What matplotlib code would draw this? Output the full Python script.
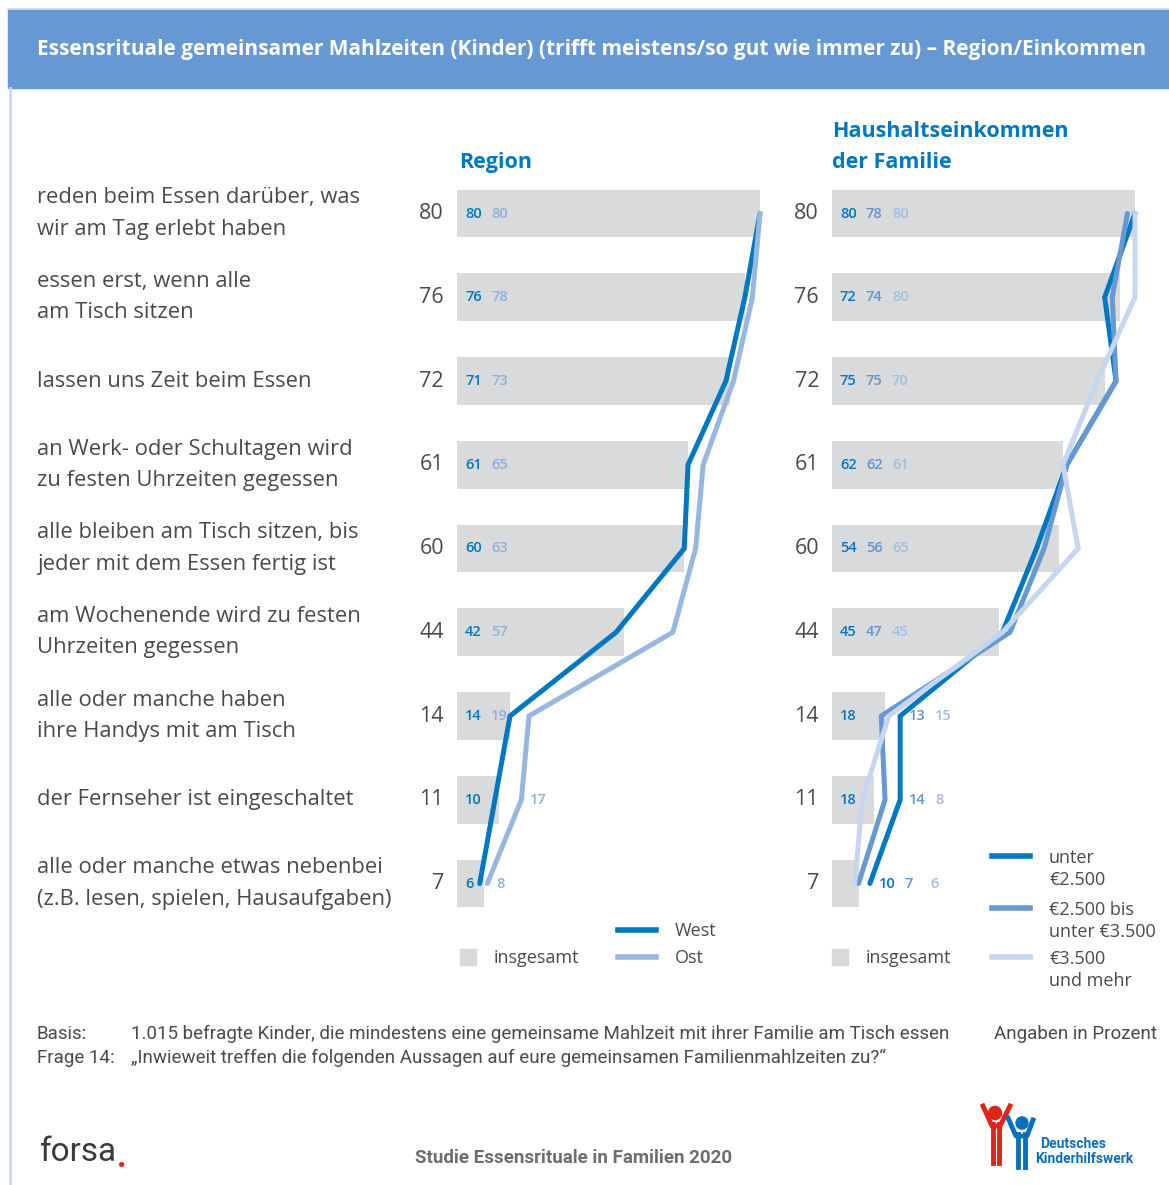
import matplotlib
matplotlib.use("Agg")
import matplotlib.pyplot as plt
import matplotlib.transforms as mtransforms
from matplotlib.patches import Rectangle, Circle
from matplotlib.lines import Line2D

# canvas in pixels
W, H = 1169, 1185
DPI = 100

statements = [
    "reden beim Essen darüber, was\nwir am Tag erlebt haben",
    "essen erst, wenn alle\nam Tisch sitzen",
    "lassen uns Zeit beim Essen",
    "an Werk- oder Schultagen wird\nzu festen Uhrzeiten gegessen",
    "alle bleiben am Tisch sitzen, bis\njeder mit dem Essen fertig ist",
    "am Wochenende wird zu festen\nUhrzeiten gegessen",
    "alle oder manche haben\nihre Handys mit am Tisch",
    "der Fernseher ist eingeschaltet",
    "alle oder manche etwas nebenbei\n(z.B. lesen, spielen, Hausaufgaben)",
]
insgesamt = [80, 76, 72, 61, 60, 44, 14, 11, 7]

west = [80, 76, 71, 61, 60, 42, 14, 10, 6]
ost = [80, 78, 73, 65, 63, 57, 19, 17, 8]

ek_unter_2500 = [80, 72, 75, 62, 54, 45, 18, 18, 10]
ek_2500_3500 = [78, 74, 75, 62, 56, 47, 13, 14, 7]
ek_ab_3500 = [80, 80, 70, 61, 65, 45, 15, 8, 6]

# how many value labels of a row sit inside the grey bar (rest go right of the lines)
region_inside = [2, 2, 2, 2, 2, 2, 2, 1, 1]
income_inside = [3, 3, 3, 3, 3, 3, 1, 1, 0]

# (legend name, values, line colour, label colour)
region_series = [("West", west, "#0078c1", "#0078c1"),
                 ("Ost", ost, "#98b7e0", "#8fb0dc")]
income_series = [
    ("unter\n€2.500", ek_unter_2500, "#0078c1", "#0078c1"),
    ("€2.500 bis\nunter €3.500", ek_2500_3500, "#6699d3", "#5f95d0"),
    ("€3.500\nund mehr", ek_ab_3500, "#c6d6ee", "#a4bde3"),
]

BAR_GREY = "#d9dadc"
TEXT_GREY = "#4a4a4a"
HEAD_BLUE = "#0078c1"
FONT = ["Open Sans", "DejaVu Sans"]
COND = ["Roboto", "DejaVu Sans"]

plt.rcParams["font.family"] = FONT

fig = plt.figure(figsize=(W / DPI, H / DPI), dpi=DPI)


def fx(x):
    return x / W


def fy(y):
    return 1 - y / H


def px_axes(x0, y0, x1, y1):
    return fig.add_axes([fx(x0), fy(y1), (x1 - x0) / W, (y1 - y0) / H])


# header band and frame lines
fig.add_artist(Rectangle((fx(8), fy(88)), 1, (88 - 10) / H, color="#6699d3",
                         transform=fig.transFigure, zorder=0))
fig.add_artist(Line2D([fx(8), 1], [fy(9), fy(9)], color="#c9d9ef", lw=1.5,
                      transform=fig.transFigure))
fig.add_artist(Line2D([fx(10), fx(10)], [fy(88), 0], color="#c9d9ef", lw=2,
                      transform=fig.transFigure))
fig.text(fx(37), fy(49), "Essensrituale gemeinsamer Mahlzeiten (Kinder) (trifft meistens/so gut wie immer zu) – Region/Einkommen",
         color="white", fontsize=15, fontweight="bold", va="center", ha="left")

SCALE = 303 / 80  # px per percent point
XMAX = 85
ROW_TOP, ROW_STEP = 213.5, 83.75
n = len(statements)
y_top = ROW_TOP - ROW_STEP / 2
y_bot = ROW_TOP + ROW_STEP * (n - 0.5)


def panel(x0, series, inside, number_x):
    ax = px_axes(x0, y_top, x0 + XMAX * SCALE, y_bot)
    ax.set_xlim(0, XMAX)
    ax.set_ylim(n - 0.5, -0.5)
    ax.axis("off")
    rows = list(range(n))
    ax.barh(rows, insgesamt, height=0.57, color=BAR_GREY, zorder=1)
    for name, vals, col, lcol in series:
        ax.plot(vals, rows, color=col, lw=3.6, zorder=3, clip_on=False,
                solid_capstyle="round", solid_joinstyle="miter")
    step = 26 / SCALE
    for i in rows:
        vals = [s[1][i] for s in series]
        k = inside[i]
        for j, (name, svals, col, lcol) in enumerate(series):
            if j < k:
                x = 8 / SCALE + j * step
            else:
                x = max(vals) + 2.3 + (j - k) * step
            ax.text(x, i, str(svals[i]), color=lcol, fontsize=10.5, fontweight="semibold",
                    ha="left", va="center", zorder=4)
    tr = mtransforms.blended_transform_factory(fig.transFigure, ax.transData)
    for i, v in enumerate(insgesamt):
        ax.text(fx(number_x), i, str(v), transform=tr, ha="right", va="center",
                fontsize=15.5, color=TEXT_GREY)
    return ax, tr


ax1, tr1 = panel(457, region_series, region_inside, 444)
ax2, tr2 = panel(832, income_series, income_inside, 819)

for i, s in enumerate(statements):
    ax1.text(fx(37), i, s, transform=tr1, ha="left", va="center", fontsize=15.8,
             color=TEXT_GREY, linespacing=1.65)

# panel headings
fig.text(fx(459), fy(162), "Region", color=HEAD_BLUE, fontsize=15.5, fontweight="bold",
         va="center")
fig.text(fx(832), fy(147), "Haushaltseinkommen\nder Familie", color=HEAD_BLUE, fontsize=15.5,
         fontweight="bold", va="center", linespacing=1.6)

# legends
for x in (460, 832):
    fig.add_artist(Rectangle((fx(x), fy(965)), 16 / W, 16 / H, color=BAR_GREY,
                             transform=fig.transFigure))
    fig.text(fx(x + 34), fy(958), "insgesamt", color=TEXT_GREY, fontsize=13, va="center")

for (name, vals, col, lcol), y in zip(region_series, (930, 957)):
    fig.add_artist(Line2D([fx(618), fx(656)], [fy(y), fy(y)], color=col, lw=4,
                          transform=fig.transFigure))
    fig.text(fx(675), fy(y + 1), name, color=TEXT_GREY, fontsize=13, va="center")

for (name, vals, col, lcol), y in zip(income_series, (856, 908, 957)):
    fig.add_artist(Line2D([fx(992), fx(1030)], [fy(y), fy(y)], color=col, lw=4,
                          transform=fig.transFigure))
    fig.text(fx(1049), fy(y - 7), name, color=TEXT_GREY, fontsize=13, va="top",
             linespacing=1.3)

# footer
foot = dict(color=TEXT_GREY, fontsize=13.5, va="center", family=COND)
fig.text(fx(37), fy(1034), "Basis:", **foot)
fig.text(fx(131), fy(1034), "1.015 befragte Kinder, die mindestens eine gemeinsame Mahlzeit mit ihrer Familie am Tisch essen", **foot)
fig.text(fx(1157), fy(1034), "Angaben in Prozent", ha="right", **foot)
fig.text(fx(37), fy(1058), "Frage 14:", **foot)
fig.text(fx(131), fy(1058), "„Inwieweit treffen die folgenden Aussagen auf eure gemeinsamen Familienmahlzeiten zu?“", **foot)

fig.text(fx(574), fy(1158), "Studie Essensrituale in Familien 2020", color="#6e6e6e",
         fontsize=13.5, fontweight="bold", ha="center", va="center", family=COND)

# forsa logo
fig.text(fx(39), fy(1152), "forsa", color="#3a3a3a", fontsize=24, va="center", family=COND)
fig.text(fx(117), fy(1158), ".", color="#e2231a", fontsize=24, va="center", family=COND,
         fontweight="bold")

# Deutsches Kinderhilfswerk logo (simplified)
red, blue = "#e2231a", "#0a6fba"
fig.add_artist(Circle((fx(995), fy(1113)), 6.5 / W, color=red, transform=fig.transFigure))
for xs, ys in [((983, 992, 1000, 1010), (1106, 1126, 1126, 1106)),
               ((993, 993), (1124, 1163)), ((999, 999), (1124, 1163))]:
    fig.add_artist(Line2D([fx(v) for v in xs], [fy(v) for v in ys], color=red, lw=3.5,
                          transform=fig.transFigure))
fig.add_artist(Circle((fx(1022), fy(1123)), 6 / W, color=blue, transform=fig.transFigure))
for xs, ys in [((1008, 1016, 1027, 1033), (1118, 1136, 1136, 1120)),
               ((1018, 1018), (1134, 1167)), ((1025, 1025), (1134, 1167))]:
    fig.add_artist(Line2D([fx(v) for v in xs], [fy(v) for v in ys], color=blue, lw=3.5,
                          transform=fig.transFigure))
fig.text(fx(1040), fy(1144), "Deutsches", color=blue, fontsize=10, fontweight="bold",
         va="center", family=COND)
fig.text(fx(1035), fy(1159), "Kinderhilfswerk", color=blue, fontsize=10, fontweight="bold",
         va="center", family=COND)

fig.savefig("out.png", dpi=DPI)
